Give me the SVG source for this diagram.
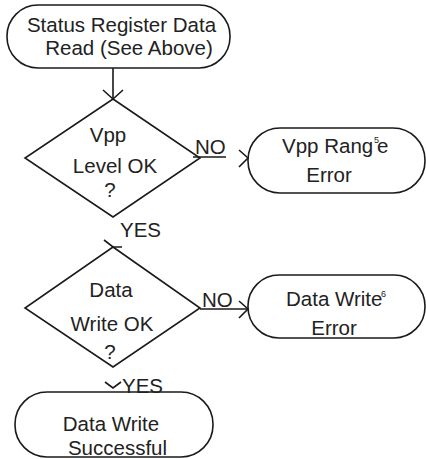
<svg xmlns="http://www.w3.org/2000/svg" width="426" height="459" viewBox="0 0 426 459">
  <style>
    .shape { fill: #ffffff; stroke: #1a1a1a; stroke-width: 1.6; }
    .line { fill: none; stroke: #1a1a1a; stroke-width: 1.6; }
    text { font-family: "Liberation Sans", Arial, sans-serif; font-size: 20.5px; fill: #222222; }
    .mid { text-anchor: middle; }
    .sup { font-size: 9px; }
  </style>
  <rect width="426" height="459" fill="#ffffff"/>

  <!-- start: status register read -->
  <g id="status-read">
    <rect class="shape" x="7" y="5" width="223" height="63" rx="31" ry="31"/>
    <text class="mid" x="121.5" y="32">Status Register Data</text>
    <text class="mid" x="129" y="55">Read (See Above)</text>
  </g>

  <!-- decision: Vpp level -->
  <g id="vpp-check">
    <polygon class="shape" points="113,99 200,158 113,217 25,158"/>
    <text class="mid" x="108" y="142">Vpp</text>
    <text class="mid" x="115" y="173">Level OK</text>
    <text class="mid" x="110" y="197">?</text>
  </g>

  <!-- error: Vpp range -->
  <g id="vpp-error">
    <rect class="shape" x="248" y="128" width="177" height="65" rx="32" ry="32"/>
    <text x="282" y="153">Vpp Rang</text>
    <text class="sup" x="374" y="143">5</text>
    <text x="377" y="153">e</text>
    <text class="mid" x="329" y="182">Error</text>
  </g>

  <!-- decision: data write -->
  <g id="write-check">
    <polygon class="shape" points="113,247 200,308 113,367 25,308"/>
    <text class="mid" x="111" y="297">Data</text>
    <text class="mid" x="112" y="331">Write OK</text>
    <text class="mid" x="110" y="359">?</text>
  </g>

  <!-- error: data write -->
  <g id="write-error">
    <rect class="shape" x="248" y="275" width="177" height="63" rx="31" ry="31"/>
    <text x="286" y="306">Data Write</text>
    <text class="sup" x="381" y="297">6</text>
    <text class="mid" x="334" y="335">Error</text>
  </g>

  <!-- end: success -->
  <g id="write-ok">
    <rect class="shape" x="15" y="392" width="198" height="65" rx="32" ry="32"/>
    <text class="mid" x="111" y="431">Data Write</text>
    <text class="mid" x="117.5" y="455">Successful</text>
  </g>

  <!-- connectors and branch labels -->
  <g id="connectors">
    <line class="line" x1="113" y1="68" x2="113" y2="99"/>
    <polyline class="line" points="103,90 113,99 123,90"/>

    <line class="line" x1="193" y1="157" x2="226" y2="157"/>
    <polyline class="line" points="239,150 248,158 239,167"/>
    <text x="195" y="154">NO</text>

    <text x="120" y="237">YES</text>
    <polyline class="line" points="104,240 113,247 122,247"/>

    <line class="line" x1="200" y1="309" x2="248" y2="309"/>
    <polyline class="line" points="239,301 248,309 239,318"/>
    <text x="202" y="307">NO</text>

    <polyline class="line" points="105,382 113,388 121,382"/>
    <text x="122" y="393">YES</text>
  </g>
</svg>
